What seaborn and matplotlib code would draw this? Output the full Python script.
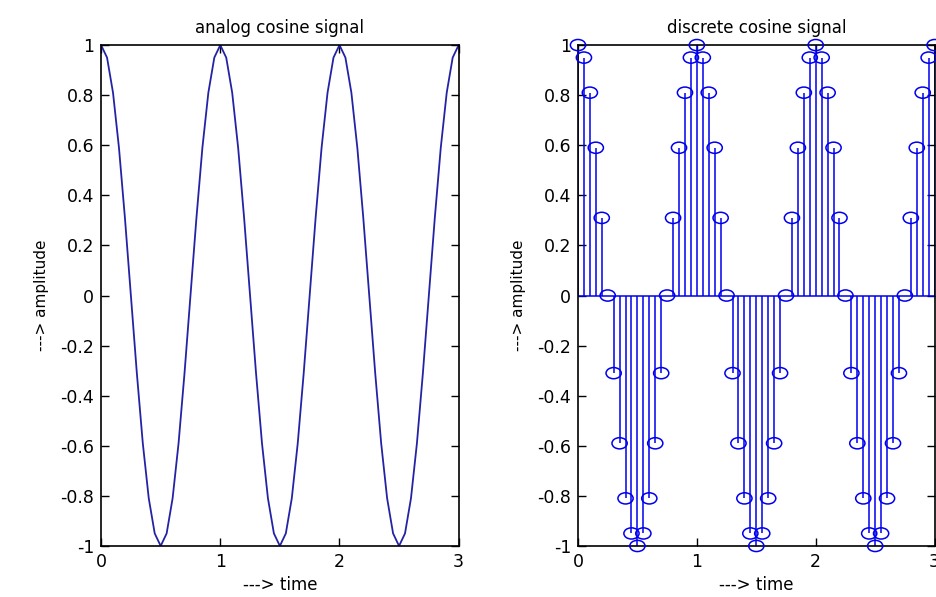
import numpy as np
import matplotlib
matplotlib.use("Agg")
import matplotlib.pyplot as plt
from matplotlib.path import Path
from matplotlib.transforms import Affine2D
import seaborn as sns

# sample instants (s) and the cosine values
time = [0.00, 0.05, 0.10, 0.15, 0.20, 0.25, 0.30, 0.35, 0.40, 0.45,
        0.50, 0.55, 0.60, 0.65, 0.70, 0.75, 0.80, 0.85, 0.90, 0.95,
        1.00, 1.05, 1.10, 1.15, 1.20, 1.25, 1.30, 1.35, 1.40, 1.45,
        1.50, 1.55, 1.60, 1.65, 1.70, 1.75, 1.80, 1.85, 1.90, 1.95,
        2.00, 2.05, 2.10, 2.15, 2.20, 2.25, 2.30, 2.35, 2.40, 2.45,
        2.50, 2.55, 2.60, 2.65, 2.70, 2.75, 2.80, 2.85, 2.90, 2.95,
        3.00]
amplitude = [1, 0.95, 0.81, 0.59, 0.31, 0, -0.31, -0.59, -0.81, -0.95,
             -1, -0.95, -0.81, -0.59, -0.31, 0, 0.31, 0.59, 0.81, 0.95,
             1, 0.95, 0.81, 0.59, 0.31, 0, -0.31, -0.59, -0.81, -0.95,
             -1, -0.95, -0.81, -0.59, -0.31, 0, 0.31, 0.59, 0.81, 0.95,
             1, 0.95, 0.81, 0.59, 0.31, 0, -0.31, -0.59, -0.81, -0.95,
             -1, -0.95, -0.81, -0.59, -0.31, 0, 0.31, 0.59, 0.81, 0.95,
             1]
x_ticks = [0, 1, 2, 3]
y_ticks = [-1, -0.8, -0.6, -0.4, -0.2, 0, 0.2, 0.4, 0.6, 0.8, 1]
y_tick_labels = ['-1', '-0.8', '-0.6', '-0.4', '-0.2', '0', '0.2', '0.4', '0.6', '0.8', '1']

sns.set_style('white')
plt.rcParams['font.family'] = ['DejaVu Sans']
plt.rcParams['text.color'] = 'black'
plt.rcParams['axes.labelcolor'] = 'black'

fig = plt.figure(figsize=(9.36, 5.97), dpi=100)
ax1 = fig.add_axes([0.108, 0.0855, 0.382, 0.839])
ax2 = fig.add_axes([0.6175, 0.0855, 0.381, 0.839])


def matlab_axes(ax, title):
    ax.set_xlim(0, 3)
    ax.set_ylim(-1, 1)
    ax.set_xticks(x_ticks)
    ax.set_xticklabels([str(v) for v in x_ticks])
    ax.set_yticks(y_ticks)
    ax.set_yticklabels(y_tick_labels)
    ax.tick_params(direction='in', length=6, width=1, top=True, right=True,
                   bottom=True, left=True, labelsize=12.5, colors='black', pad=5)
    for s in ax.spines.values():
        s.set_visible(True)
        s.set_color('black')
        s.set_linewidth(1.2)
    ax.set_title(title, fontsize=12, pad=9, color='black')
    ax.set_xlabel('---> time', fontsize=12, labelpad=4)
    ax.set_ylabel('---> amplitude', fontsize=11, labelpad=8)


# analog signal
sns.lineplot(x=time, y=amplitude, ax=ax1, color='#2323a6', linewidth=1.3)
matlab_axes(ax1, 'analog cosine signal')

# the stem circles look slightly flattened in the reference
ellipse = Path.unit_circle().transformed(Affine2D().scale(1.36, 1.0))

# discrete signal as stem plot
ax2.vlines(time, 0, amplitude, color='#0000ee', linewidth=1.1)
ax2.axhline(0, color='#0000ee', linewidth=1.1)
sns.scatterplot(x=time, y=amplitude, ax=ax2, marker=ellipse, s=120,
                facecolor='none', edgecolor='#0000ee', linewidth=1.1,
                clip_on=False, zorder=5)
matlab_axes(ax2, 'discrete cosine signal')

fig.savefig('out.png', dpi=100)
